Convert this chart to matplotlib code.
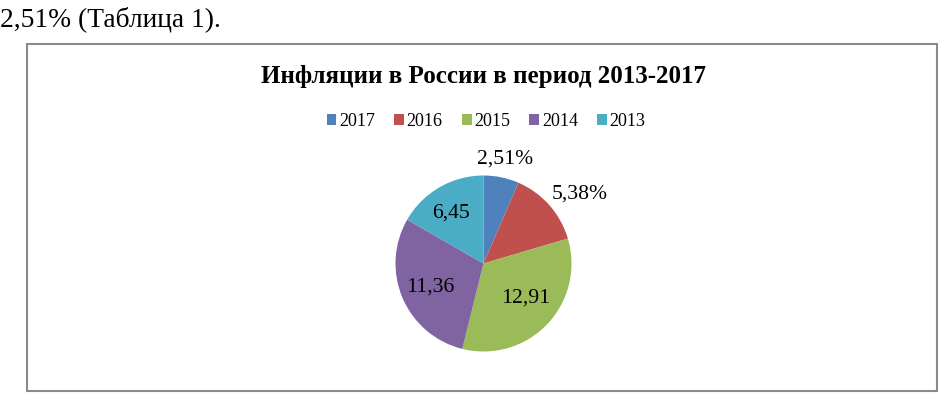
import matplotlib
matplotlib.use("Agg")
import matplotlib.pyplot as plt
from matplotlib.patches import Rectangle, Patch
import numpy as np

years = ["2017", "2016", "2015", "2014", "2013"]
values = [2.51, 5.38, 12.91, 11.36, 6.45]
value_labels = ["2,51%", "5,38%", "12,91", "11,36", "6,45"]
colors = ["#4F81BD", "#C0504D", "#9BBB59", "#8064A2", "#4BACC6"]
title = "Инфляции в России в период 2013-2017"
top_text = "2,51% (Таблица 1)."

W, H = 940, 393
fig = plt.figure(figsize=(W / 100, H / 100), dpi=100)
fig.patch.set_facecolor("white")
serif = ["Liberation Serif", "DejaVu Serif"]

# document text above the chart
fig.text(0 / W, 1 - 19 / H, top_text, fontsize=19.8, family=serif,
         ha="left", va="center")

# chart border
fig.patches.append(Rectangle((27 / W, 2 / H), 910 / W, (391 - 44) / H,
                             transform=fig.transFigure, fill=False,
                             edgecolor="#8a8a8a", linewidth=1.5))

# title
fig.text(484 / W, 1 - 77 / H, title, fontsize=18, fontweight="bold",
         family=serif, ha="center", va="center")

# pie
cx, cy, r = 483.5, 263.5, 88
ax = fig.add_axes([(cx - r) / W, (H - cy - r) / H, 2 * r / W, 2 * r / H])
wedges, _ = ax.pie(values, colors=colors, startangle=90, counterclock=False,
                   radius=1, wedgeprops=dict(linewidth=0))
ax.set_xlim(-1, 1)
ax.set_ylim(-1, 1)
ax.set_aspect("equal")
ax.axis("off")

# label placement (style): distance from centre and angle offset per wedge
dists = [1.235, 1.365, 0.60, 0.65, 0.70]
offsets = [0.5, -5, 6, -1.6, 1.4]
for w, lab, d, off in zip(wedges, value_labels, dists, offsets):
    mid = np.deg2rad((w.theta1 + w.theta2) / 2 + off)
    ax.text(d * np.cos(mid), d * np.sin(mid), lab, fontsize=15.6,
            family=serif, ha="center", va="center_baseline", clip_on=False)

# legend
handles = [Patch(facecolor=c, edgecolor="none") for c in colors]
fig.legend(handles, years, loc="center", bbox_to_anchor=(486 / W, 1 - 121 / H),
           ncol=5, frameon=False, handlelength=0.55, handleheight=0.55,
           handletextpad=0.15, columnspacing=1.05, borderpad=0,
           prop=dict(family=serif, size=13))

fig.savefig("out.png", dpi=100)
